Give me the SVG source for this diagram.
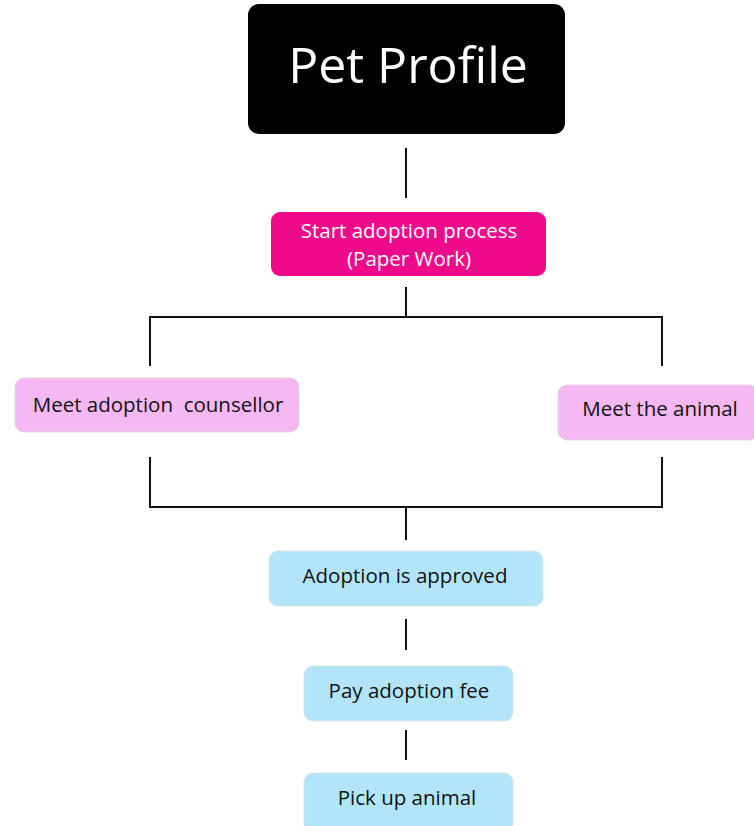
<svg xmlns="http://www.w3.org/2000/svg" width="754" height="826" viewBox="0 0 754 826">
<style>
.t{font-family:"Open Sans","Noto Sans","Liberation Sans",sans-serif;text-anchor:middle;}
.dark{fill:#111;font-size:20.5px;}
.light{fill:#fff;font-size:20.5px;}
.pink{fill:#f5b8f3;stroke:#e3d3e3;stroke-width:1;}
.blue{fill:#b3e5fa;stroke:#d6e4ea;stroke-width:1;}
.c{stroke:#111;stroke-width:2;fill:none;}
</style>
<rect width="754" height="826" fill="#fff"/>
<g id="connectors">
<path class="c" d="M406 148V198"/>
<path class="c" d="M406 287V317M150 366V317H662V366"/>
<path class="c" d="M150 457V507H662V457M406 507V540"/>
<path class="c" d="M406 619V650"/>
<path class="c" d="M406 730V760"/>
</g>
<g id="pet-profile">
<rect x="248" y="4" width="317" height="130" rx="11" fill="#000"/>
<text class="t" x="408" y="83" fill="#fff" font-size="50">Pet Profile</text>
</g>
<g id="start-adoption">
<rect x="271" y="212" width="275" height="64" rx="9" fill="#ef0a8c"/>
<text class="t light" x="409" y="238">Start adoption process</text>
<text class="t light" x="409" y="266">(Paper Work)</text>
</g>
<g id="meet-counsellor">
<rect class="pink" x="15" y="378" width="284" height="54" rx="9"/>
<text class="t dark" x="158" y="412">Meet adoption&#160; counsellor</text>
</g>
<g id="meet-animal">
<rect class="pink" x="558" y="385" width="200" height="55" rx="9"/>
<text class="t dark" x="660" y="416">Meet the animal</text>
</g>
<g id="approved">
<rect class="blue" x="269" y="551" width="274" height="55" rx="9"/>
<text class="t dark" x="405" y="583">Adoption is approved</text>
</g>
<g id="pay-fee">
<rect class="blue" x="304" y="666" width="209" height="55" rx="9"/>
<text class="t dark" x="409" y="698">Pay adoption fee</text>
</g>
<g id="pick-up">
<rect class="blue" x="304" y="773" width="209" height="60" rx="9"/>
<text class="t dark" x="407" y="805">Pick up animal</text>
</g>
</svg>
